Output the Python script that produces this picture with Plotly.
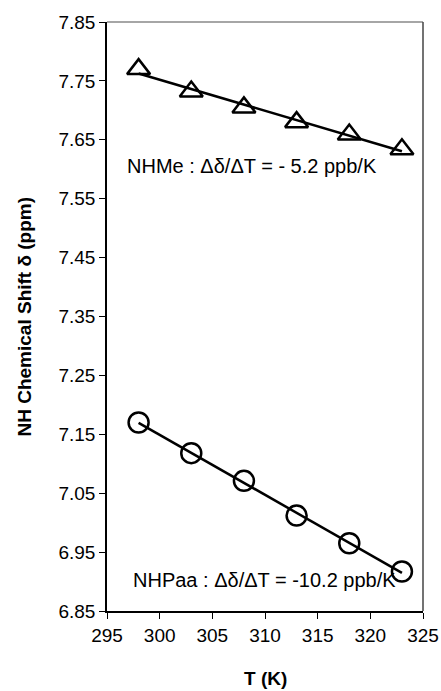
import numpy as np
import plotly.graph_objects as go

temps = [298, 303, 308, 313, 318, 323]
nhme = [7.770, 7.732, 7.705, 7.680, 7.659, 7.634]
nhpaa = [7.170, 7.118, 7.071, 7.012, 6.965, 6.917]
x_ticks = [295, 300, 305, 310, 315, 320, 325]
y_ticks = [6.85, 6.95, 7.05, 7.15, 7.25, 7.35, 7.45, 7.55, 7.65, 7.75, 7.85]

FONT = "Liberation Sans, Arial, sans-serif"

fig = go.Figure()
for ys, sym in [(nhme, "triangle-up-open"), (nhpaa, "circle-open")]:
    coef = np.polyfit(temps, ys, 1)
    fit = np.polyval(coef, temps)
    fig.add_trace(go.Scatter(x=temps, y=fit, mode="lines",
                             line=dict(color="black", width=2.5),
                             showlegend=False, hoverinfo="skip", cliponaxis=False))
    fig.add_trace(go.Scatter(x=temps, y=ys, mode="markers",
                             marker=dict(symbol=sym, size=20, color="black",
                                         line=dict(color="black", width=2.5)),
                             showlegend=False, cliponaxis=False))

fig.add_annotation(x=296.8, y=7.605, xref="x", yref="y", xanchor="left", yanchor="middle",
                   text="NHMe : Δδ/ΔT = - 5.2 ppb/K", showarrow=False, borderpad=0,
                   font=dict(family=FONT, size=20, color="black"))
fig.add_annotation(x=297.4, y=6.903, xref="x", yref="y", xanchor="left", yanchor="middle",
                   text="NHPaa : Δδ/ΔT = -10.2 ppb/K", showarrow=False, borderpad=0,
                   font=dict(family=FONT, size=20, color="black"))

# axis titles
fig.add_annotation(x=0, y=0.5, xref="paper", yref="paper", xshift=-83, xanchor="center", yanchor="middle",
                   text="<b>NH Chemical Shift δ (ppm)</b>", textangle=-90, showarrow=False,
                   font=dict(family=FONT, size=19, color="black"))
fig.add_annotation(x=0.5, y=0, xref="paper", yref="paper", yshift=-67, xanchor="center", yanchor="middle",
                   text="<b>T (K)</b>", showarrow=False,
                   font=dict(family=FONT, size=19, color="black"))

# frame top / right
fig.add_shape(type="line", xref="paper", yref="paper", x0=0, x1=1, y0=1, y1=1,
              line=dict(color="#888888", width=1.5))
fig.add_shape(type="line", xref="paper", yref="paper", x0=1, x1=1, y0=0, y1=1,
              line=dict(color="#444444", width=1.5))

fig.update_xaxes(range=[295, 325], tickvals=x_ticks, ticktext=[str(v) for v in x_ticks],
                 showgrid=False, zeroline=False, showline=True, linecolor="black", linewidth=1.5,
                 ticks="outside", ticklen=6, tickcolor="black", automargin=False,
                 tickfont=dict(family=FONT, size=19, color="black"))
fig.update_yaxes(range=[6.85, 7.85], tickvals=y_ticks, ticktext=[f"{v:.2f}" for v in y_ticks],
                 showgrid=False, zeroline=False, showline=True, linecolor="black", linewidth=1.5,
                 ticks="outside", ticklen=6, tickcolor="black", automargin=False,
                 tickfont=dict(family=FONT, size=19, color="black"))

fig.update_layout(width=441, height=691, margin=dict(l=107, r=18, t=22, b=80, autoexpand=False),
                  paper_bgcolor="white", plot_bgcolor="white", showlegend=False)

fig.write_html("out.html", config={"displayModeBar": False},
               post_script="document.body.style.margin='0px';document.body.style.overflow='hidden';")
